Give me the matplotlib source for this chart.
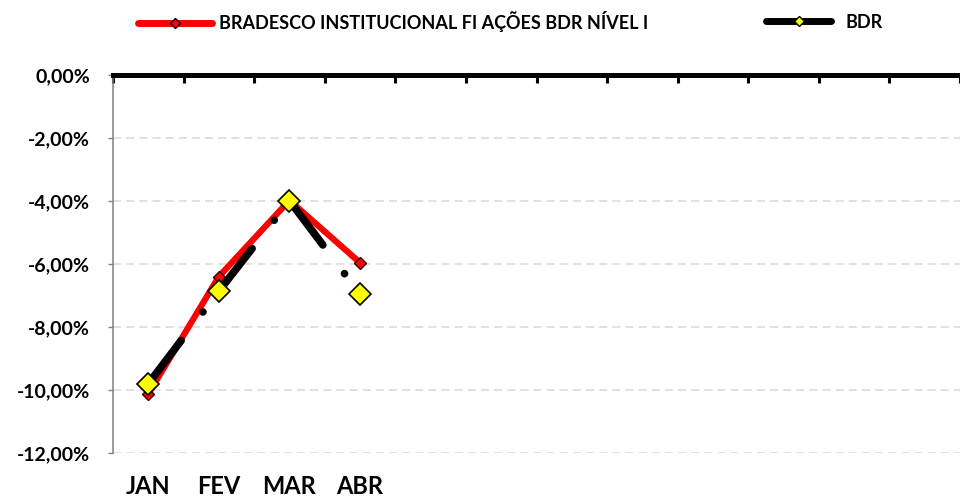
import matplotlib.pyplot as plt
from matplotlib.lines import Line2D
from matplotlib.ticker import FuncFormatter, FixedLocator

plt.rcParams["font.family"] = ["Lato", "DejaVu Sans"]
plt.rcParams["font.weight"] = "bold"

months = ["JAN", "FEV", "MAR", "ABR", "", "", "", "", "", "", "", ""]
fundo = [-10.12, -6.40, -3.98, -5.96]
bdr = [-9.80, -6.86, -3.99, -6.96]
fundo_label = "BRADESCO INSTITUCIONAL FI AÇÕES BDR NÍVEL I"
bdr_label = "BDR"
y_ticks = [0, -2, -4, -6, -8, -10, -12]

fig = plt.figure(figsize=(9.6, 4.98), dpi=100)
ax = fig.add_axes([113 / 960, 1 - 453 / 498, 847 / 960, 378 / 498])

x = list(range(len(fundo)))
ax.plot(x, fundo, color="#FF0000", lw=4.5, marker="D", ms=6.5,
        markerfacecolor="#FF0000", markeredgecolor="#3a0000", markeredgewidth=1.0,
        solid_capstyle="round", zorder=3)
ax.plot(x, bdr, color="black", lw=5.5, linestyle=(0, (7.1, 4.7, 0.01, 3.4)),
        dash_capstyle="round", marker="D", ms=11.5, markerfacecolor="#FFFF00",
        markeredgecolor="black", markeredgewidth=1.2, zorder=4)

ax.set_xlim(-0.5, len(months) - 0.5)
ax.set_ylim(-12, 0)

ax.yaxis.set_major_locator(FixedLocator(y_ticks))
ax.yaxis.set_major_formatter(FuncFormatter(lambda v, p: f"{v:.2f}".replace(".", ",") + "%"))
ax.tick_params(axis="y", direction="out", length=3.6, width=1.0, color="#808080",
               pad=13, labelsize=14)
ax.grid(axis="y", color="#D9D9D9", lw=1.1, linestyle=(0, (5.3, 3.3)))
ax.set_axisbelow(True)

ax.set_xticks(range(len(months)))
ax.set_xticklabels(months)
ax.tick_params(axis="x", which="major", length=0, pad=16, labelsize=17)
ax.xaxis.set_minor_locator(FixedLocator([i - 0.5 for i in range(len(months) + 1)]))
ax.tick_params(axis="x", which="minor", top=True, bottom=False, direction="in",
               length=5.4, width=2.2, color="black")

ax.spines["top"].set_linewidth(3.6)
ax.spines["top"].set_color("black")
ax.spines["left"].set_color("#808080")
ax.spines["left"].set_linewidth(1.1)
ax.spines["right"].set_visible(False)
ax.spines["bottom"].set_visible(False)

h1 = Line2D([], [], color="#FF0000", lw=5, marker="D", ms=5,
            markerfacecolor="#FF0000", markeredgecolor="black", solid_capstyle="round")
h2 = Line2D([], [], color="black", lw=5, marker="D", ms=5,
            markerfacecolor="#FFFF00", markeredgecolor="black", solid_capstyle="round")
for handle, label, x0, hl, tp in [(h1, fundo_label, 138, 4.1, 0.4),
                                  (h2, bdr_label, 766, 3.6, 0.8)]:
    fig.legend([handle], [label], loc="center left",
               bbox_to_anchor=(x0 / 960, 1 - 22 / 498), frameon=False,
               borderpad=0, borderaxespad=0, handlelength=hl, handletextpad=tp,
               prop={"size": 13, "weight": "bold"})

fig.savefig("out.png", dpi=100)
